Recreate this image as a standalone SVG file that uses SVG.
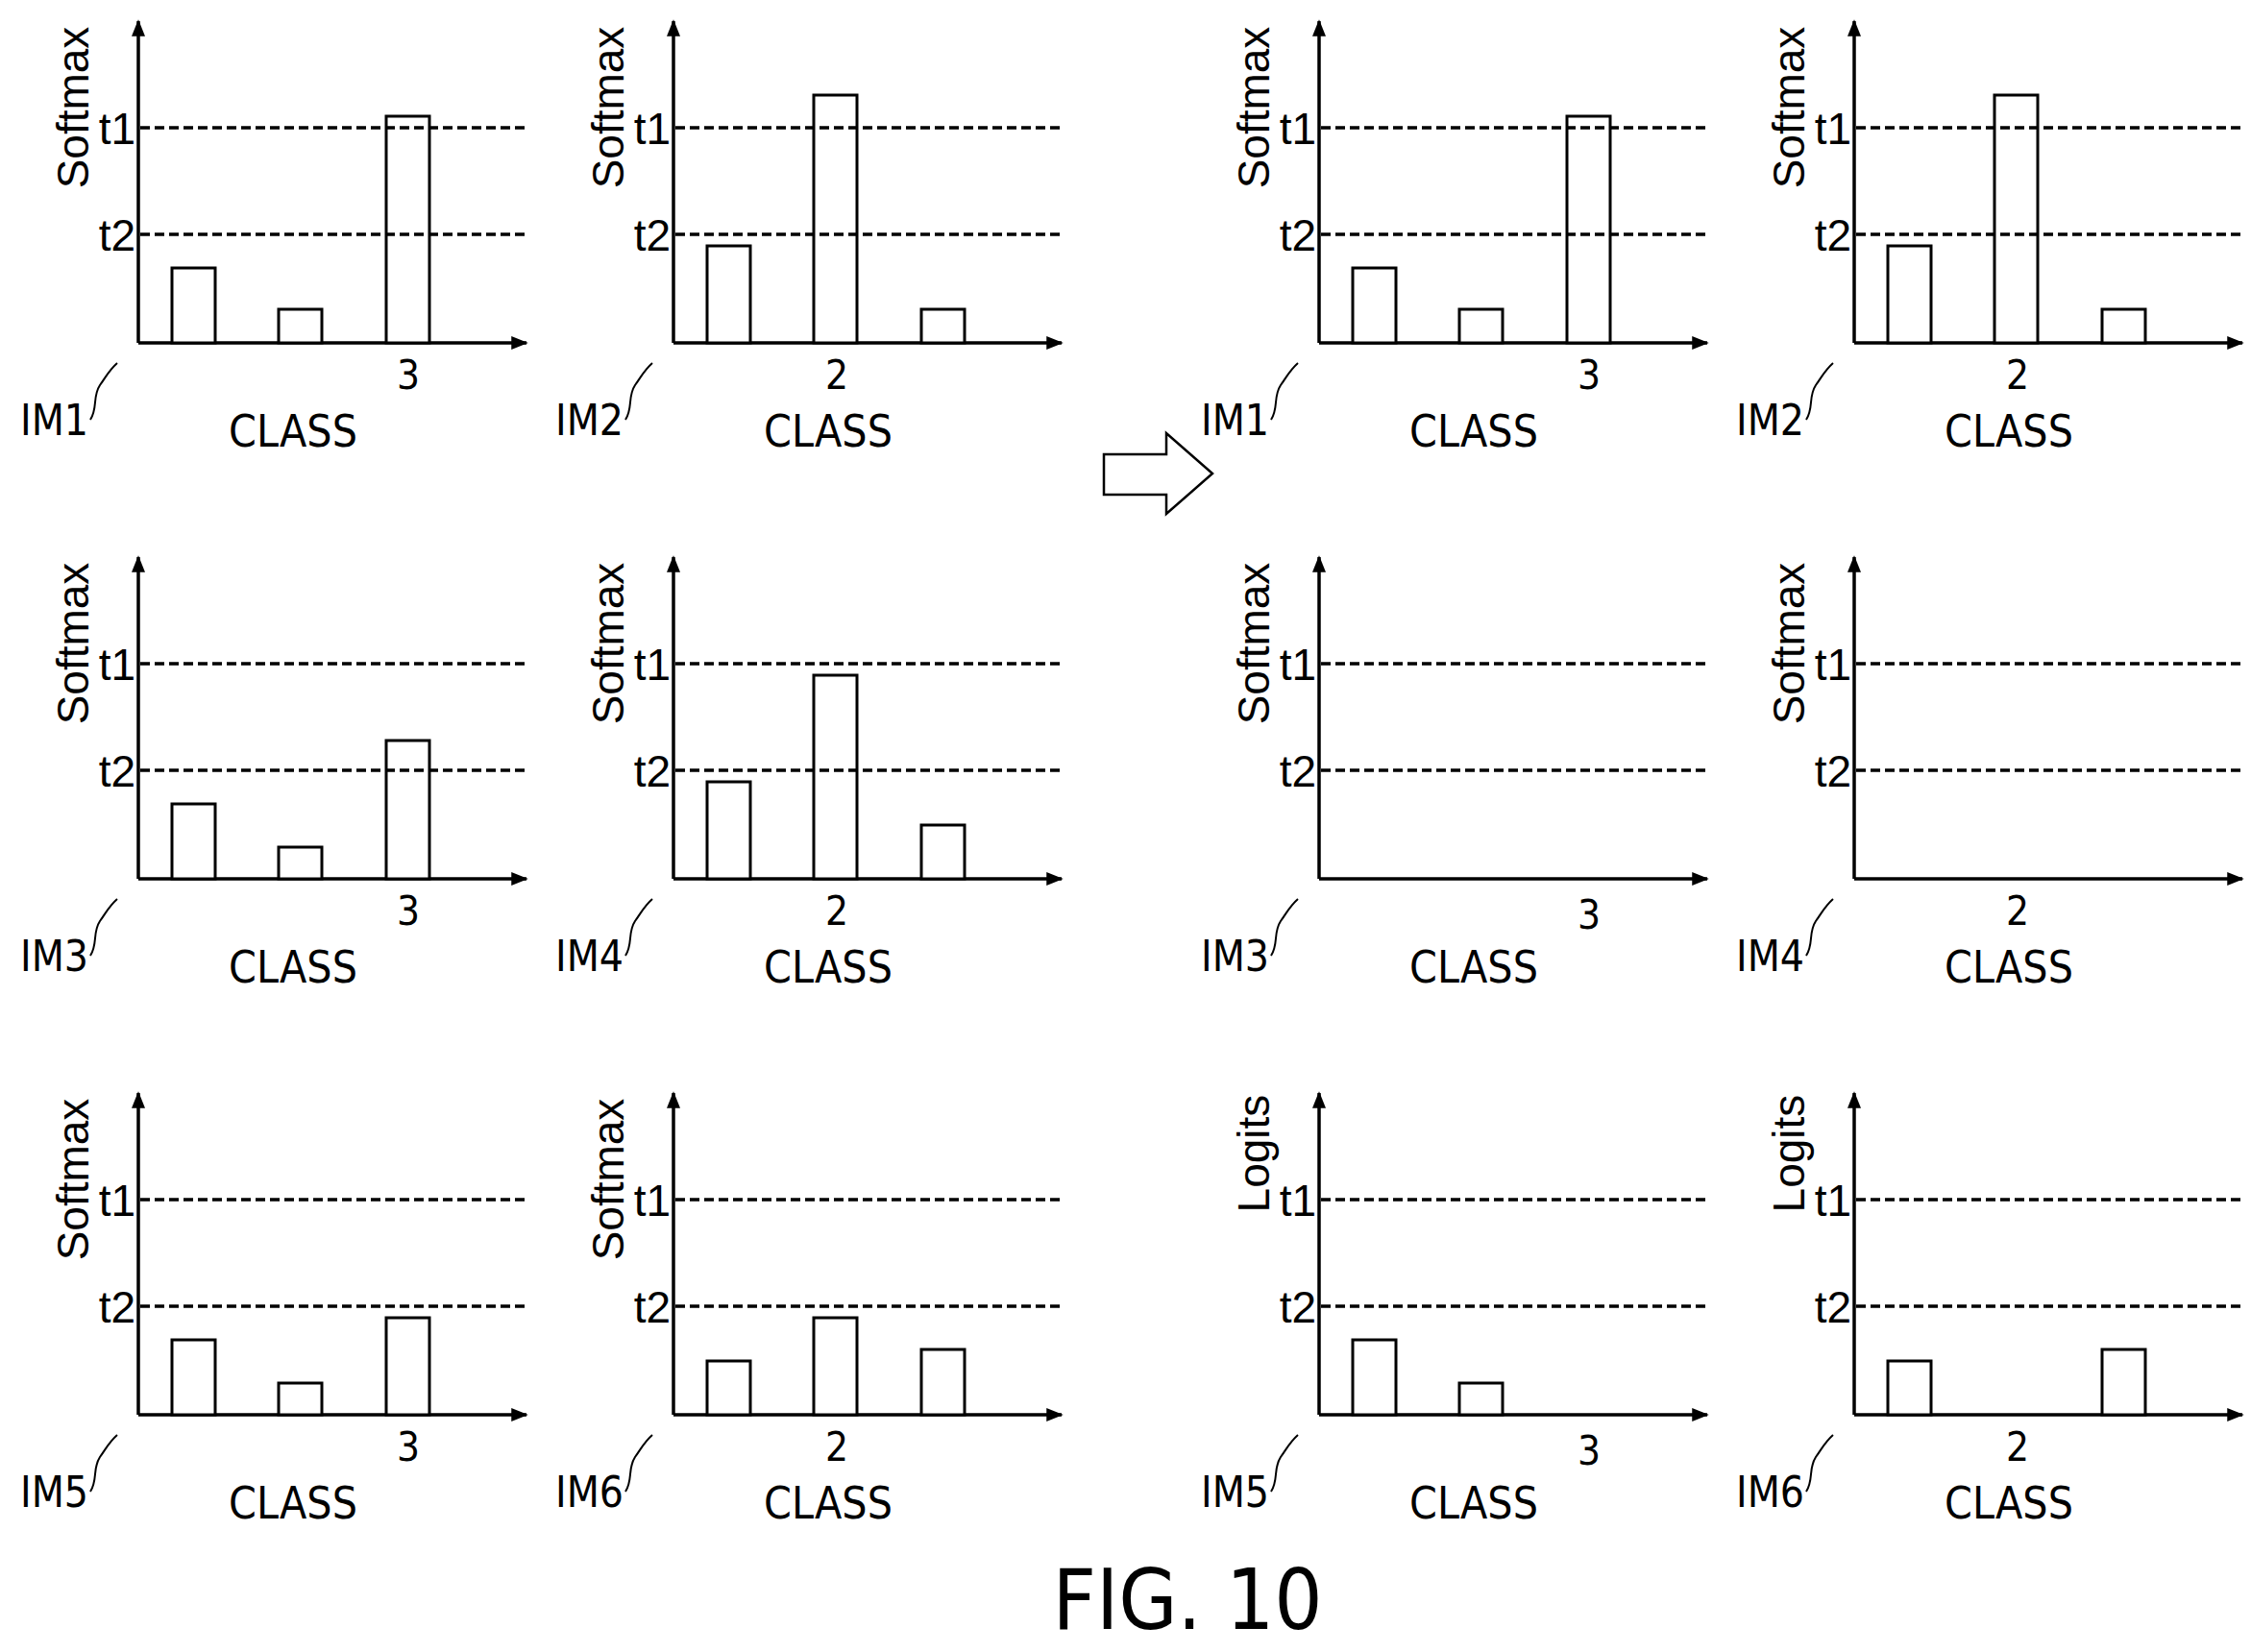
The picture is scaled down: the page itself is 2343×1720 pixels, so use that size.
<svg xmlns="http://www.w3.org/2000/svg" width="2343" height="1720" viewBox="0 0 2343 1720">
<defs>
<style>
.ax{stroke:#000;stroke-width:3.5;fill:none}
.ds{stroke:#000;stroke-width:3.5;stroke-dasharray:10 5;fill:none}
.bar{stroke:#000;stroke-width:3;fill:#fff}
.sq{stroke:#000;stroke-width:2;fill:none}
.lab{font-family:"Liberation Sans",sans-serif;font-size:46px;fill:#000}
.t{font-family:"Liberation Sans",sans-serif;font-size:46px;fill:#000;text-anchor:end}
.cl{font-family:"DejaVu Sans Condensed","DejaVu Sans",sans-serif;font-size:46px;fill:#000;text-anchor:middle;font-weight:300}
.num{font-family:"DejaVu Sans Condensed","DejaVu Sans",sans-serif;font-size:42px;fill:#000;text-anchor:middle}
.im{font-family:"DejaVu Sans Condensed","DejaVu Sans",sans-serif;font-size:44px;fill:#000;text-anchor:end}
</style>
<marker id="ah2" viewBox="0 0 10 8" refX="9" refY="4" markerWidth="22" markerHeight="14" orient="auto" markerUnits="userSpaceOnUse"><path d="M0,0 L10,4 L0,8 Z" fill="#000"/></marker>
<g id="axes">
<line class="ax" x1="0" y1="0" x2="0" y2="-335" marker-end="url(#ah2)"/>
<line class="ax" x1="0" y1="0" x2="404" y2="0" marker-end="url(#ah2)"/>
<text class="t" x="-3" y="-207">t1</text>
<text class="t" x="-3" y="-96">t2</text>
<text class="cl" x="161" y="108">CLASS</text>
<path class="sq" d="M-50,80 C-42,68 -48,56 -40,44 C-33,34 -30,28 -22,21"/>
</g>
<g id="dash">
<line class="ds" x1="2" y1="-224" x2="402" y2="-224"/>
<line class="ds" x1="2" y1="-113" x2="402" y2="-113"/>
</g>
</defs>

<g id="IM1-left" transform="translate(144,357)">
<use href="#axes"/>
<text class="lab" transform="translate(-52,-245) rotate(-90)" text-anchor="middle">Softmax</text>
<rect class="bar" x="35" y="-78" width="45" height="78"/>
<rect class="bar" x="146" y="-35" width="45" height="35"/>
<rect class="bar" x="258" y="-236" width="45" height="236"/>
<use href="#dash"/>
<text class="num" x="281" y="48">3</text>
<text class="im" x="-52" y="96">IM1</text>
</g>
<g id="IM2-left" transform="translate(701,357)">
<use href="#axes"/>
<text class="lab" transform="translate(-52,-245) rotate(-90)" text-anchor="middle">Softmax</text>
<rect class="bar" x="35" y="-101" width="45" height="101"/>
<rect class="bar" x="146" y="-258" width="45" height="258"/>
<rect class="bar" x="258" y="-35" width="45" height="35"/>
<use href="#dash"/>
<text class="num" x="170" y="48">2</text>
<text class="im" x="-52" y="96">IM2</text>
</g>
<g id="IM3-left" transform="translate(144,915)">
<use href="#axes"/>
<text class="lab" transform="translate(-52,-245) rotate(-90)" text-anchor="middle">Softmax</text>
<rect class="bar" x="35" y="-78" width="45" height="78"/>
<rect class="bar" x="146" y="-33" width="45" height="33"/>
<rect class="bar" x="258" y="-144" width="45" height="144"/>
<use href="#dash"/>
<text class="num" x="281" y="48">3</text>
<text class="im" x="-52" y="96">IM3</text>
</g>
<g id="IM4-left" transform="translate(701,915)">
<use href="#axes"/>
<text class="lab" transform="translate(-52,-245) rotate(-90)" text-anchor="middle">Softmax</text>
<rect class="bar" x="35" y="-101" width="45" height="101"/>
<rect class="bar" x="146" y="-212" width="45" height="212"/>
<rect class="bar" x="258" y="-56" width="45" height="56"/>
<use href="#dash"/>
<text class="num" x="170" y="48">2</text>
<text class="im" x="-52" y="96">IM4</text>
</g>
<g id="IM5-left" transform="translate(144,1473)">
<use href="#axes"/>
<text class="lab" transform="translate(-52,-245) rotate(-90)" text-anchor="middle">Softmax</text>
<rect class="bar" x="35" y="-78" width="45" height="78"/>
<rect class="bar" x="146" y="-33" width="45" height="33"/>
<rect class="bar" x="258" y="-101" width="45" height="101"/>
<use href="#dash"/>
<text class="num" x="281" y="48">3</text>
<text class="im" x="-52" y="96">IM5</text>
</g>
<g id="IM6-left" transform="translate(701,1473)">
<use href="#axes"/>
<text class="lab" transform="translate(-52,-245) rotate(-90)" text-anchor="middle">Softmax</text>
<rect class="bar" x="35" y="-56" width="45" height="56"/>
<rect class="bar" x="146" y="-101" width="45" height="101"/>
<rect class="bar" x="258" y="-68" width="45" height="68"/>
<use href="#dash"/>
<text class="num" x="170" y="48">2</text>
<text class="im" x="-52" y="96">IM6</text>
</g>

<g id="transform-arrow">
<path d="M1149,473 L1214,473 L1214,451 L1262,493 L1214,535 L1214,515 L1149,515 Z" fill="#fff" stroke="#000" stroke-width="2.5"/>
</g>

<g id="IM1-right" transform="translate(1373,357)">
<use href="#axes"/>
<text class="lab" transform="translate(-52,-245) rotate(-90)" text-anchor="middle">Softmax</text>
<rect class="bar" x="35" y="-78" width="45" height="78"/>
<rect class="bar" x="146" y="-35" width="45" height="35"/>
<rect class="bar" x="258" y="-236" width="45" height="236"/>
<use href="#dash"/>
<text class="num" x="281" y="48">3</text>
<text class="im" x="-52" y="96">IM1</text>
</g>
<g id="IM2-right" transform="translate(1930,357)">
<use href="#axes"/>
<text class="lab" transform="translate(-52,-245) rotate(-90)" text-anchor="middle">Softmax</text>
<rect class="bar" x="35" y="-101" width="45" height="101"/>
<rect class="bar" x="146" y="-258" width="45" height="258"/>
<rect class="bar" x="258" y="-35" width="45" height="35"/>
<use href="#dash"/>
<text class="num" x="170" y="48">2</text>
<text class="im" x="-52" y="96">IM2</text>
</g>
<g id="IM3-right" transform="translate(1373,915)">
<use href="#axes"/>
<use href="#dash"/>
<text class="lab" transform="translate(-52,-245) rotate(-90)" text-anchor="middle">Softmax</text>
<text class="num" x="281" y="52">3</text>
<text class="im" x="-52" y="96">IM3</text>
</g>
<g id="IM4-right" transform="translate(1930,915)">
<use href="#axes"/>
<use href="#dash"/>
<text class="lab" transform="translate(-52,-245) rotate(-90)" text-anchor="middle">Softmax</text>
<text class="num" x="170" y="48">2</text>
<text class="im" x="-52" y="96">IM4</text>
</g>
<g id="IM5-right" transform="translate(1373,1473)">
<use href="#axes"/>
<text class="lab" transform="translate(-52,-272) rotate(-90)" text-anchor="middle">Logits</text>
<rect class="bar" x="35" y="-78" width="45" height="78"/>
<rect class="bar" x="146" y="-33" width="45" height="33"/>
<use href="#dash"/>
<text class="num" x="281" y="52">3</text>
<text class="im" x="-52" y="96">IM5</text>
</g>
<g id="IM6-right" transform="translate(1930,1473)">
<use href="#axes"/>
<text class="lab" transform="translate(-52,-272) rotate(-90)" text-anchor="middle">Logits</text>
<rect class="bar" x="35" y="-56" width="45" height="56"/>
<rect class="bar" x="258" y="-68" width="45" height="68"/>
<use href="#dash"/>
<text class="num" x="170" y="48">2</text>
<text class="im" x="-52" y="96">IM6</text>
</g>

<g id="connectors"></g>

<text x="1236" y="1696" font-family="DejaVu Sans Condensed, DejaVu Sans, sans-serif" font-size="88" text-anchor="middle" font-weight="300">FIG. 10</text>
</svg>
